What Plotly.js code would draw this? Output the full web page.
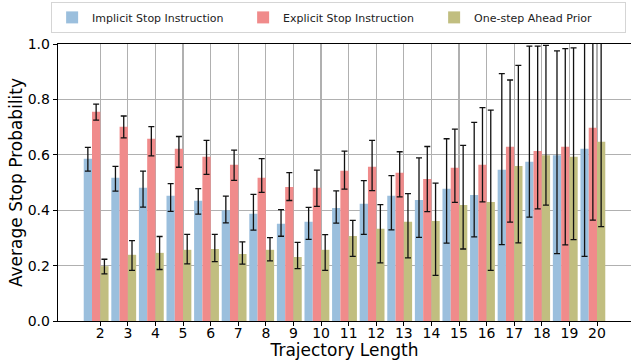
<!DOCTYPE html>
<html>
<head>
<meta charset="utf-8">
<script src="https://cdn.plot.ly/plotly-3.0.1.min.js"></script>
<style>html,body{margin:0;padding:0;background:#fff;}#chart{width:631px;height:360px;}</style>
</head>
<body>
<div id="chart"></div>
<script>
const categories = [2,3,4,5,6,7,8,9,10,11,12,13,14,15,16,17,18,19,20];

const implicitVals = [0.586,0.517,0.481,0.452,0.434,0.400,0.387,0.351,0.358,0.408,0.423,0.452,0.437,0.477,0.455,0.546,0.575,0.598,0.622];
const implicitLow  = [0.541,0.469,0.411,0.396,0.386,0.354,0.328,0.306,0.295,0.353,0.313,0.329,0.302,0.281,0.304,0.276,0.375,0.243,0.233];
const implicitHigh = [0.627,0.558,0.541,0.496,0.478,0.451,0.457,0.402,0.410,0.470,0.507,0.525,0.589,0.658,0.717,0.893,0.992,0.975,1.010];

const explicitVals = [0.755,0.701,0.658,0.622,0.593,0.564,0.517,0.484,0.481,0.542,0.557,0.535,0.513,0.553,0.564,0.629,0.614,0.629,0.698];
const explicitLow  = [0.725,0.661,0.596,0.555,0.529,0.508,0.464,0.435,0.414,0.476,0.471,0.448,0.395,0.428,0.430,0.357,0.405,0.275,0.364];
const explicitHigh = [0.783,0.740,0.702,0.666,0.652,0.617,0.586,0.536,0.545,0.613,0.652,0.611,0.630,0.693,0.770,0.870,0.992,0.983,1.030];

const priorVals = [0.198,0.239,0.246,0.257,0.260,0.242,0.257,0.231,0.257,0.307,0.333,0.358,0.361,0.419,0.430,0.560,0.598,0.593,0.647];
const priorLow  = [0.170,0.183,0.186,0.206,0.214,0.205,0.217,0.189,0.183,0.233,0.210,0.228,0.165,0.260,0.183,0.282,0.418,0.294,0.341];
const priorHigh = [0.223,0.290,0.305,0.313,0.313,0.286,0.301,0.284,0.312,0.363,0.420,0.460,0.498,0.634,0.761,0.923,0.995,0.986,1.010];

const seriesNames = ['Implicit Stop Instruction','Explicit Stop Instruction','One-step Ahead Prior'];
const yTicks = [0,0.2,0.4,0.6,0.8,1.0];

const FONT = 'DejaVu Sans, sans-serif';

function mkTrace(name, vals, lo, hi, color, offset) {
  return {
    type: 'bar', name: name, x: categories, y: vals,
    width: 0.3, offset: offset,
    marker: {color: color, line: {width: 0}},
    error_y: {
      type: 'data', symmetric: false,
      array: vals.map((v,i) => hi[i] - v),
      arrayminus: vals.map((v,i) => v - lo[i]),
      color: '#111', thickness: 1.3, width: 3
    }
  };
}

const data = [
  mkTrace(seriesNames[0], implicitVals, implicitLow, implicitHigh, '#9bbfdd', -0.6),
  mkTrace(seriesNames[1], explicitVals, explicitLow, explicitHigh, '#f08b8b', -0.3),
  mkTrace(seriesNames[2], priorVals, priorLow, priorHigh, '#c1be80', 0.0)
];

const layout = {
  width: 631, height: 360,
  margin: {l: 58, r: 0, t: 44, b: 39, pad: 0},
  paper_bgcolor: '#fff', plot_bgcolor: '#fff',
  font: {family: FONT, color: '#000', size: 14},
  barmode: 'overlay',
  showlegend: true,
  legend: {
    orientation: 'h', x: -0.012, xanchor: 'left', y: 1.152, yanchor: 'top',
    font: {family: FONT, size: 11, color: '#222'},
    bordercolor: '#d5d5d5', borderwidth: 1, bgcolor: '#fff',
    entrywidth: 146, entrywidthmode: 'pixels',
    traceorder: 'normal'
  },
  xaxis: {
    range: [0.468, 21.232],
    tickmode: 'array', tickvals: categories, ticktext: categories.map(String),
    ticks: 'outside', ticklen: 4, tickcolor: '#000', tickwidth: 1,
    ticklabelstandoff: -5,
    showline: true, linecolor: '#000', linewidth: 1.3, mirror: true,
    showgrid: true, gridcolor: '#b0b0b0', gridwidth: 1.2,
    zeroline: false,
    tickfont: {family: FONT, size: 14},
    title: {text: 'Trajectory Length', font: {family: FONT, size: 17}, standoff: 0}
  },
  yaxis: {
    range: [0, 1.0],
    tickmode: 'array', tickvals: yTicks, ticktext: yTicks.map(v => v.toFixed(1)),
    ticks: 'outside', ticklen: 4, tickcolor: '#000', tickwidth: 1,
    showline: true, linecolor: '#000', linewidth: 1.3, mirror: true,
    showgrid: true, gridcolor: '#b0b0b0', gridwidth: 1.2,
    zeroline: false,
    tickfont: {family: FONT, size: 14},
    title: {text: 'Average Stop Probability', font: {family: FONT, size: 17}, standoff: 0}
  }
};

Plotly.newPlot('chart', data, layout, {displayModeBar: false, staticPlot: true});
</script>
</body>
</html>
